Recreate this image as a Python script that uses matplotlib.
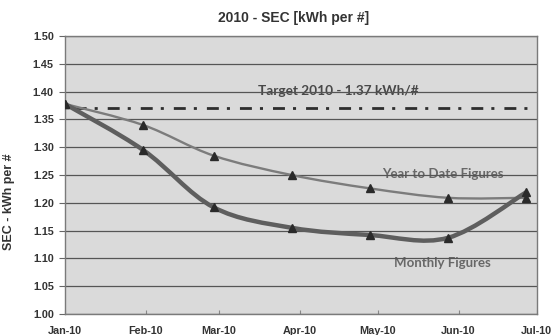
import numpy as np
import matplotlib
matplotlib.use("Agg")
import matplotlib.pyplot as plt
import matplotlib.dates as mdates
from matplotlib.path import Path
from matplotlib.patches import PathPatch
import datetime as dt

# Data
dates = ["2010-01-01", "2010-01-31", "2010-02-27", "2010-03-29",
         "2010-04-28", "2010-05-28", "2010-06-27"]
ytd_values = [1.378, 1.340, 1.285, 1.250, 1.226, 1.209, 1.209]
monthly_values = [1.378, 1.295, 1.192, 1.155, 1.142, 1.137, 1.219]
target_value = 1.37
tick_months = ["2010-01-01", "2010-02-01", "2010-03-01", "2010-04-01",
               "2010-05-01", "2010-06-01", "2010-07-01"]
tick_labels = ["Jan-10", "Feb-10", "Mar-10", "Apr-10", "May-10", "Jun-10", "Jul-10"]
y_ticks = [1.00, 1.05, 1.10, 1.15, 1.20, 1.25, 1.30, 1.35, 1.40, 1.45, 1.50]

def to_num(ds):
    return mdates.date2num([dt.datetime.strptime(d, "%Y-%m-%d") for d in ds])

x = to_num(dates)
xt = to_num(tick_months)

def smooth_path(xs, ys):
    """Cubic Bezier path through the points (Catmull-Rom style tangents)."""
    pts = np.column_stack([xs, ys])
    n = len(pts)
    verts = [pts[0]]
    codes = [Path.MOVETO]
    for i in range(n - 1):
        p0 = pts[i - 1] if i > 0 else pts[i]
        p1 = pts[i]
        p2 = pts[i + 1]
        p3 = pts[i + 2] if i + 2 < n else pts[i + 1]
        c1 = p1 + (p2 - p0) / 6.0
        c2 = p2 - (p3 - p1) / 6.0
        verts += [c1, c2, p2]
        codes += [Path.CURVE4] * 3
    return Path(verts, codes)

fig = plt.figure(figsize=(5.53, 3.35), dpi=100)
fig.patch.set_facecolor("white")
ax = fig.add_axes([0.1175, 0.063, 0.853, 0.829])
ax.set_facecolor("#dadada")
ax.set_axisbelow(False)

ax.set_xlim(xt[0], xt[-1])
ax.set_ylim(1.0, 1.5)
ax.set_yticks(y_ticks)
ax.set_yticklabels([f"{v:.2f}" for v in y_ticks])
ax.set_xticks(xt)
ax.set_xticklabels(tick_labels)

for lbl in ax.get_xticklabels() + ax.get_yticklabels():
    lbl.set_fontfamily("Liberation Sans")
    lbl.set_fontweight("bold")
    lbl.set_fontsize(7.8)
    lbl.set_color("#333333")

ax.tick_params(axis="y", length=4, width=0.8, color="#666666", pad=4)
ax.tick_params(axis="x", length=3, width=0.8, color="#888888", pad=9, direction="in")
ax.yaxis.grid(True, color="#555555", linewidth=0.9)
ax.xaxis.grid(False)
for side, sp in ax.spines.items():
    sp.set_color("#7a7a7a")
    sp.set_linewidth(1.0)
    sp.set_zorder(2.6)

# Target line (dash - dot pattern)
ax.axhline(target_value, color="#2e2e2e", linewidth=2.0,
           linestyle=(8.6, (4.3, 2.9, 1.1, 3.6)), zorder=3)

# Year to date series
ax.add_patch(PathPatch(smooth_path(x, ytd_values), facecolor="none",
                       edgecolor="#7c7c7c", linewidth=1.7, zorder=3))
ax.plot(x, ytd_values, linestyle="none", marker="^", markersize=5.5,
        color="#2a2a2a", zorder=4)

# Monthly series
ax.add_patch(PathPatch(smooth_path(x, monthly_values), facecolor="none",
                       edgecolor="#5e5e5e", linewidth=3.2, zorder=3))
ax.plot(x, monthly_values, linestyle="none", marker="^", markersize=6,
        color="#2a2a2a", zorder=4)

# Annotations
ax.text(mdates.date2num(dt.datetime(2010, 4, 16)), 1.401,
        "Target 2010 - 1.37 kWh/#", ha="center", va="center",
        fontsize=9.8, fontweight="bold", family="Lato", color="#484848", zorder=1)
ax.text(mdates.date2num(dt.datetime(2010, 5, 26)), 1.252,
        "Year to Date Figures", ha="center", va="center",
        fontsize=9.5, fontweight="bold", family="Lato", color="#686868", zorder=1)
ax.text(mdates.date2num(dt.datetime(2010, 5, 26)), 1.091,
        "Monthly Figures", ha="center", va="center",
        fontsize=9.5, fontweight="bold", family="Lato", color="#686868", zorder=1)

fig.text(0.53, 0.946, "2010 - SEC [kWh per #]", ha="center", va="center",
         fontsize=10, fontweight="bold", family="Liberation Sans", color="#333333")
fig.text(0.017, 0.398, "SEC - kWh per #", ha="center", va="center", rotation=90,
         fontsize=9, fontweight="bold", family="Liberation Sans", color="#333333")

fig.savefig("out.png", dpi=100, facecolor="white")
